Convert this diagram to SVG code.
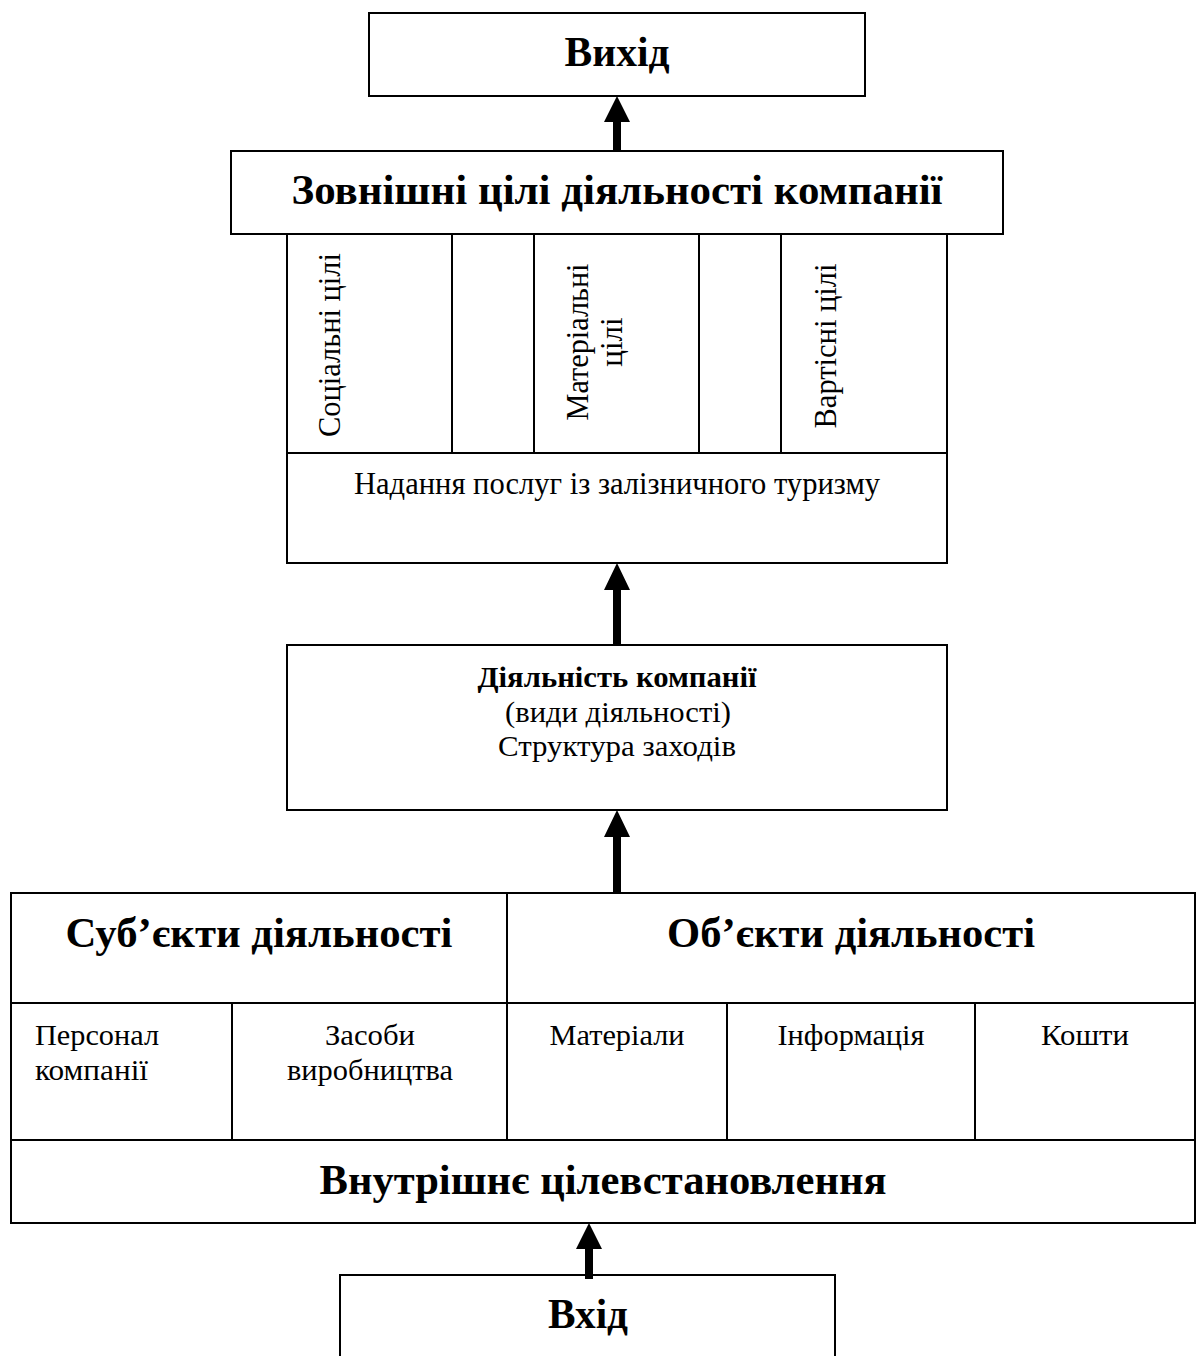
<svg xmlns="http://www.w3.org/2000/svg" width="1196" height="1356" viewBox="0 0 1196 1356">
  <style>
    .box { fill: #fff; stroke: #000; stroke-width: 2; }
    .ln { stroke: #000; stroke-width: 2; fill: none; }
    .t { font-family: "Liberation Serif", "Times New Roman", serif; fill: #000; }
    .h { font-size: 42px; font-weight: bold; text-anchor: middle; }
    .m { font-size: 29px; font-weight: bold; text-anchor: middle; }
    .r { font-size: 30px; text-anchor: middle; }
    .rl { font-size: 30px; text-anchor: start; }
    .v { font-size: 31px; text-anchor: middle; }
    .arrow { fill: #000; }
  </style>
  <rect width="1196" height="1356" fill="#fff"/>

  <!-- output -->
  <g id="output">
    <rect class="box" x="369" y="13" width="496" height="83"/>
    <text class="t h" x="617" y="66" textLength="105" lengthAdjust="spacingAndGlyphs">Вихід</text>
  </g>

  <!-- external goals with its table -->
  <g id="external-goals">
    <rect class="box" x="231" y="151" width="772" height="83"/>
    <text class="t h" x="617" y="204" textLength="651" lengthAdjust="spacingAndGlyphs">Зовнішні цілі діяльності компанії</text>
  </g>
  <g id="goal-types">
    <rect class="box" x="287" y="234" width="660" height="329"/>
    <line class="ln" x1="287" y1="453" x2="947" y2="453"/>
    <line class="ln" x1="452" y1="234" x2="452" y2="453"/>
    <line class="ln" x1="534" y1="234" x2="534" y2="453"/>
    <line class="ln" x1="699" y1="234" x2="699" y2="453"/>
    <line class="ln" x1="781" y1="234" x2="781" y2="453"/>
    <text class="t v" transform="translate(340,345) rotate(-90)" textLength="184" lengthAdjust="spacingAndGlyphs">Соціальні цілі</text>
    <text class="t v" transform="translate(588,342) rotate(-90)" textLength="157" lengthAdjust="spacingAndGlyphs">Матеріальні</text>
    <text class="t v" transform="translate(622,342) rotate(-90)">цілі</text>
    <text class="t v" transform="translate(836,346) rotate(-90)" textLength="165" lengthAdjust="spacingAndGlyphs">Вартісні цілі</text>
    <text class="t v" x="617" y="494" textLength="526" lengthAdjust="spacingAndGlyphs">Надання послуг із залізничного туризму</text>
  </g>

  <!-- company activity -->
  <g id="activity">
    <rect class="box" x="287" y="645" width="660" height="165"/>
    <text class="t m" x="617" y="687" textLength="279" lengthAdjust="spacingAndGlyphs">Діяльність компанії</text>
    <text class="t r" x="618" y="722" textLength="226" lengthAdjust="spacingAndGlyphs">(види діяльності)</text>
    <text class="t r" x="617" y="756" textLength="238" lengthAdjust="spacingAndGlyphs">Структура заходів</text>
  </g>

  <!-- subjects and objects of activity -->
  <g id="resources">
    <rect class="box" x="11" y="893" width="1184" height="330"/>
    <line class="ln" x1="11" y1="1003" x2="1195" y2="1003"/>
    <line class="ln" x1="11" y1="1140" x2="1195" y2="1140"/>
    <line class="ln" x1="507" y1="893" x2="507" y2="1140"/>
    <line class="ln" x1="232" y1="1003" x2="232" y2="1140"/>
    <line class="ln" x1="727" y1="1003" x2="727" y2="1140"/>
    <line class="ln" x1="975" y1="1003" x2="975" y2="1140"/>
    <text class="t h" x="259" y="947" textLength="387" lengthAdjust="spacingAndGlyphs">Суб’єкти діяльності</text>
    <text class="t h" x="851" y="947" textLength="368" lengthAdjust="spacingAndGlyphs">Об’єкти діяльності</text>
    <text class="t rl" x="35" y="1045" textLength="124" lengthAdjust="spacingAndGlyphs">Персонал</text>
    <text class="t rl" x="35" y="1080" textLength="113" lengthAdjust="spacingAndGlyphs">компанії</text>
    <text class="t r" x="370" y="1045" textLength="90" lengthAdjust="spacingAndGlyphs">Засоби</text>
    <text class="t r" x="370" y="1080" textLength="166" lengthAdjust="spacingAndGlyphs">виробництва</text>
    <text class="t r" x="617" y="1045" textLength="135" lengthAdjust="spacingAndGlyphs">Матеріали</text>
    <text class="t r" x="851" y="1045" textLength="147" lengthAdjust="spacingAndGlyphs">Інформація</text>
    <text class="t r" x="1085" y="1045" textLength="88" lengthAdjust="spacingAndGlyphs">Кошти</text>
    <text class="t h" x="603" y="1194" textLength="567" lengthAdjust="spacingAndGlyphs">Внутрішнє цілевстановлення</text>
  </g>

  <!-- input -->
  <g id="input">
    <rect class="box" x="340" y="1275" width="495" height="90"/>
    <text class="t h" x="588" y="1328" textLength="80" lengthAdjust="spacingAndGlyphs">Вхід</text>
  </g>

  <!-- connectors: bold upward arrows -->
  <g id="connectors" class="arrow">
    <path d="M613 151 V122 H604 L617 96 L630 122 H621 V151 Z"/>
    <path d="M613 645 V590 H604 L617 563 L630 590 H621 V645 Z"/>
    <path d="M613 893 V837 H604 L617 810 L630 837 H621 V893 Z"/>
    <path d="M585 1279 V1249 H576 L589 1223 L602 1249 H593 V1279 Z"/>
  </g>
</svg>
